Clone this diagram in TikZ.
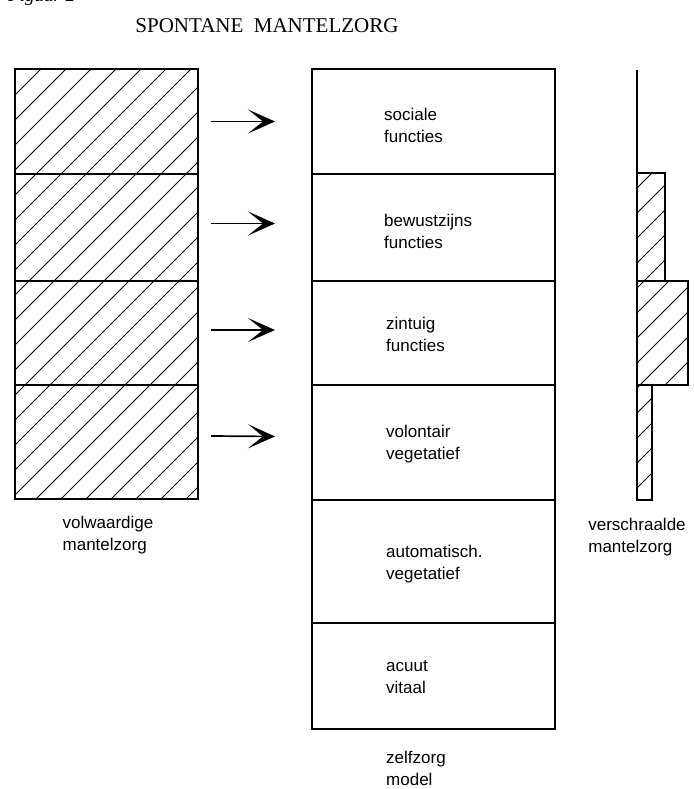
\documentclass[tikz,border=0pt]{standalone}
\usepackage{fontspec}
\setmainfont{Liberation Serif}
\newfontfamily\labfont{Liberation Sans}
\usetikzlibrary{arrows.meta,calc}
\begin{document}
\begin{tikzpicture}[x=1pt,y=-1pt,
  hatchline/.style={line width=0.9pt},
  cell/.style={draw=black,line width=1.6pt,inner sep=0pt,outer sep=0pt,anchor=north west},
  lab/.style={font=\labfont\fontsize{17}{22}\selectfont,align=left,inner sep=0pt},
  arr/.style={line width=1.7pt,-{Stealth[length=27pt,width=24pt,inset=15pt]}}]
\useasboundingbox (0,0) rectangle (693,789);
% title
\node[anchor=base west,font=\itshape\fontsize{19}{20}\selectfont,inner sep=0pt] (fig) at (8,2) {Figuur 2};
\node[anchor=base,font=\fontsize{21}{24}\selectfont,inner sep=0pt] (title) at (267,33) {SPONTANE\ \ MANTELZORG};
% left column
\coordinate (Lnw) at (15,69);
\coordinate (Lse) at (198,499);
\begin{scope}
  \clip (Lnw) rectangle (Lse);
  \foreach \k in {-560,-535,...,220} \draw[hatchline] (\k,520) -- ++(460,-460);
\end{scope}
\node[cell,minimum width=183,minimum height=105] (L1) at (15,69) {};
\node[cell,minimum width=183,minimum height=107] (L2) at (15,174) {};
\node[cell,minimum width=183,minimum height=104] (L3) at (15,281) {};
\node[cell,minimum width=183,minimum height=114] (L4) at (15,385) {};
\node[lab,anchor=north] (Llab) at (108,516) {volwaardige\\mantelzorg};
% middle column
\node[cell,minimum width=243,minimum height=105] (M1) at (312,69) {};
\node[cell,minimum width=243,minimum height=107] (M2) at (312,174) {};
\node[cell,minimum width=243,minimum height=104] (M3) at (312,281) {};
\node[cell,minimum width=243,minimum height=115] (M4) at (312,385) {};
\node[cell,minimum width=243,minimum height=123] (M5) at (312,500) {};
\node[cell,minimum width=243,minimum height=106] (M6) at (312,623) {};
\node[lab,anchor=west] (T1) at (384,125) {sociale\\functies};
\node[lab,anchor=west] (T2) at (384,231) {bewustzijns\\functies};
\node[lab,anchor=west] (T3) at (386,334) {zintuig\\functies};
\node[lab,anchor=west] (T4) at (386,444) {volontair\\vegetatief};
\node[lab,anchor=west] (T5) at (386,564) {automatisch.\\vegetatief};
\node[lab,anchor=west] (T6) at (386,677) {acuut\\vitaal};
\node[lab,anchor=west] (Mlab) at (386,768) {zelfzorg\\model};
% arrows
\draw[arr] ($(L1.east)+(13,0)$) -- ($(M1.west)+(-37,0)$);
\draw[arr] ($(L2.east)+(13,-4)$) -- ($(M2.west)+(-37,-4)$);
\draw[arr] ($(L3.east)+(13,-3)$) -- ($(M3.west)+(-37,-3)$);
\draw[arr] ($(L4.east)+(13,-6)$) -- ($(M4.west)+(-37,-6)$);
% right column
\begin{scope}
  \clip (637,173) -- (665,173) -- (665,281) -- (688,281) -- (688,385) -- (652,385) -- (652,500) -- (637,500) -- cycle;
  \foreach \k in {80,105,...,680} \draw[hatchline] (\k,520) -- ++(360,-360);
\end{scope}
\coordinate (Rtop) at (637,70);
\node[cell,minimum width=28,minimum height=108] (R1) at (637,173) {};
\node[cell,minimum width=51,minimum height=104] (R2) at (637,281) {};
\node[cell,minimum width=15,minimum height=115] (R3) at (637,385) {};
\draw[line width=1.4pt] (Rtop) -- (R1.north west);
\node[lab,anchor=north] (Rlab) at (637,518) {verschraalde\\mantelzorg};
\end{tikzpicture}
\end{document}
